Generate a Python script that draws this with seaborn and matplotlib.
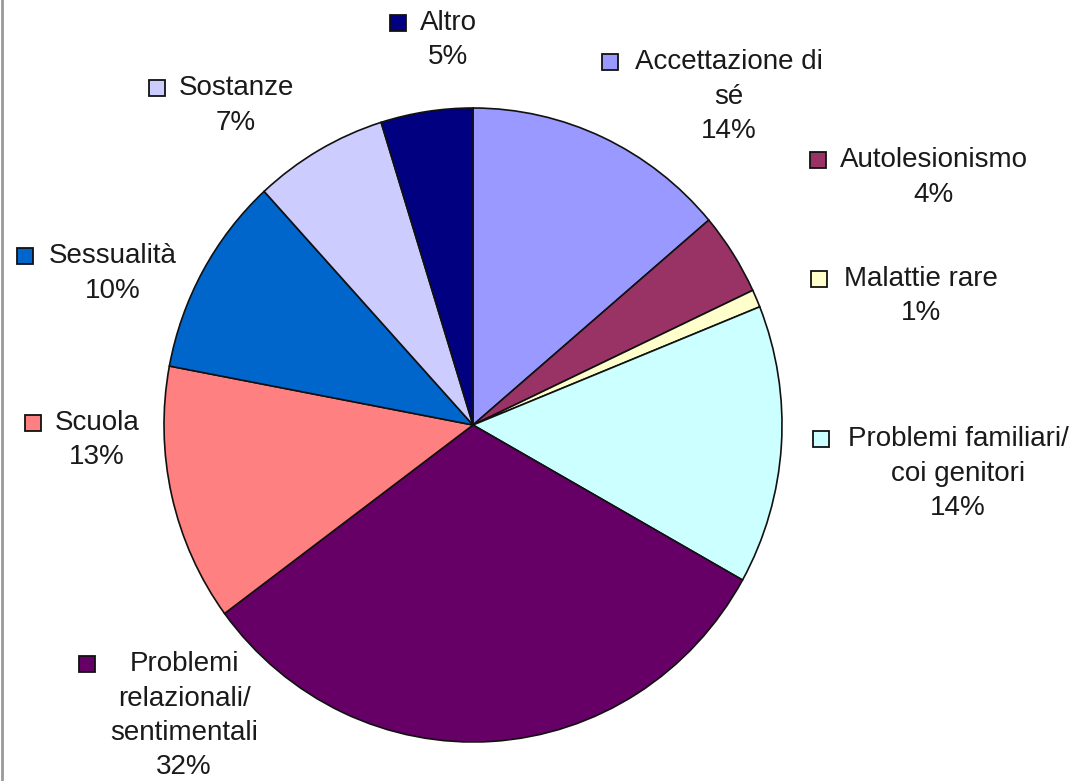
import numpy as np
import matplotlib.pyplot as plt
import seaborn as sns
from matplotlib.patches import Rectangle
from matplotlib.lines import Line2D

sns.set_theme(style="white")
plt.rcParams['font.family'] = ['Liberation Sans', 'DejaVu Sans']

# Slices, clockwise from 12 o'clock (shares in %)
categories = ['Accettazione di sé', 'Autolesionismo', 'Malattie rare',
              'Problemi familiari/ coi genitori',
              'Problemi relazionali/ sentimentali', 'Scuola', 'Sessualità',
              'Sostanze', 'Altro']
shares = [13.8, 4.2, 0.9, 14.2, 31.7, 13.1, 10.2, 7.0, 4.8]
colors = ['#9999FF', '#993366', '#FFFFCC', '#CCFFFF', '#660066',
          '#FF8080', '#0066CC', '#CCCCFF', '#000080']

# label text lines (last line is the percentage)
label_lines = [
    ['Accettazione di', 'sé'],
    ['Autolesionismo'],
    ['Malattie rare'],
    ['Problemi familiari/', 'coi genitori'],
    ['Problemi', 'relazionali/', 'sentimentali'],
    ['Scuola'],
    ['Sessualità'],
    ['Sostanze'],
    ['Altro'],
]
# layout in pixels: text centre x, first line y, key x
label_pos = [(729, 62, 610), (934, 160, 818), (921, 279, 819),
             (958, 439, 821), (184, 664, 87), (97, 423, 33),
             (113, 256, 25), (236, 88, 157), (448, 23, 398)]

W, H = 1077, 781
fig = plt.figure(figsize=(W / 100, H / 100), dpi=100)
ax = fig.add_axes([0, 0, 1, 1])

cx, cy, rx, ry = 473, 425, 309, 317
ax.pie(shares, colors=colors, startangle=90, counterclock=False, radius=1,
       wedgeprops=dict(edgecolor='#111111', linewidth=1.2))
ax.set_aspect('auto')
ax.set_xlim(-cx / rx, (W - cx) / rx)
ax.set_ylim(-(H - cy) / ry, cy / ry)
ax.axis('off')


def fpos(px, py):
    return px / W, 1 - py / H


step = 34.5
for lines, share, col, (tx, ty, kx) in zip(label_lines, shares, colors, label_pos):
    lines = lines + [f'{round(share):.0f}%']
    for i, line in enumerate(lines):
        x, y = fpos(tx, ty + i * step)
        fig.text(x, y, line, ha='center', va='center', fontsize=20,
                 color='#1a1a1a')
    ks = 16
    x0, y0 = fpos(kx - ks / 2, ty + ks / 2)
    fig.add_artist(Rectangle((x0, y0), ks / W, ks / H, transform=fig.transFigure,
                             facecolor=col, edgecolor='#111111', linewidth=1.3))

# left frame edge
fig.add_artist(Line2D([2 / W, 2 / W], [0, 1], transform=fig.transFigure,
                      color='#999999', linewidth=2))

fig.savefig('out.png', dpi=100)
